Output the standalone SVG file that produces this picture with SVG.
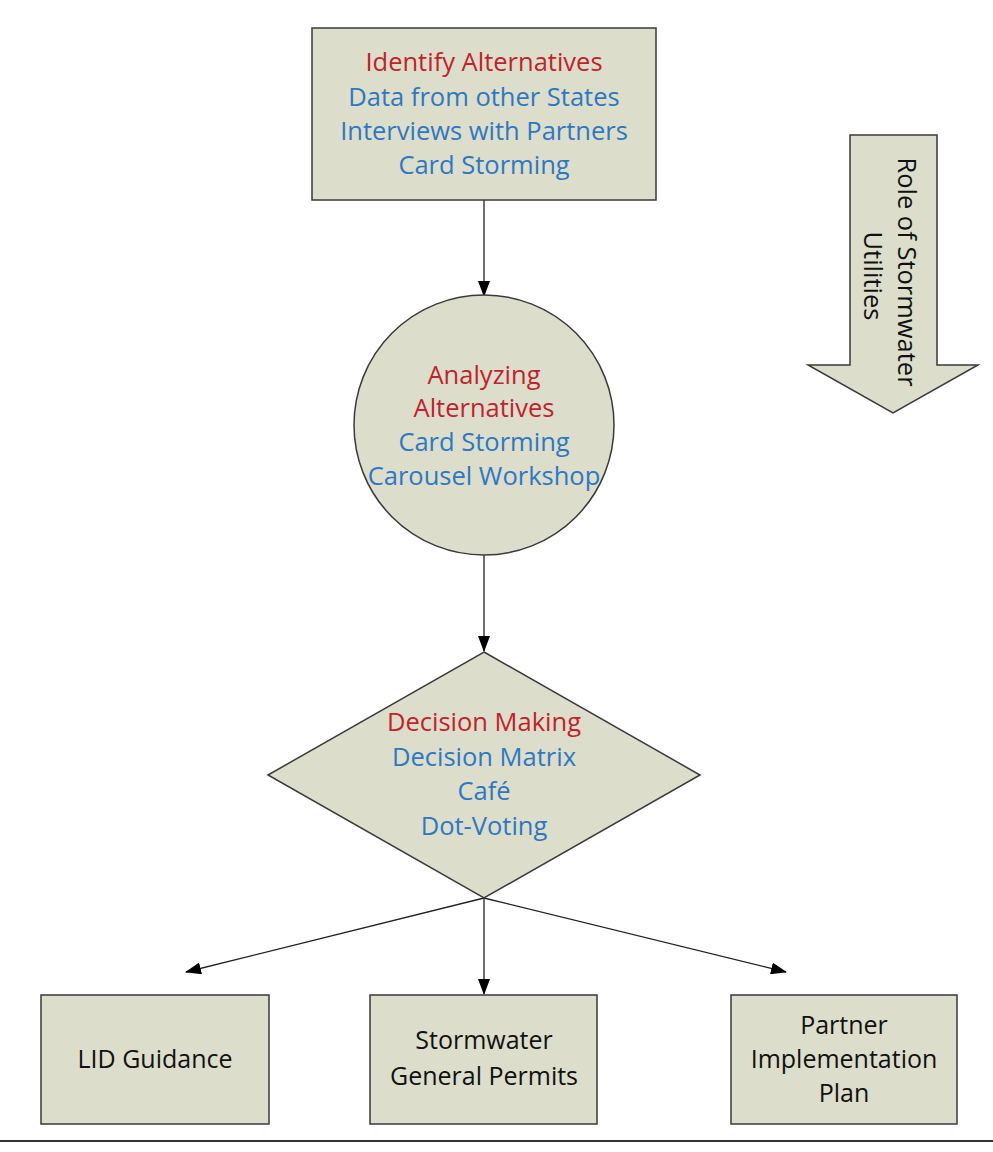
<svg xmlns="http://www.w3.org/2000/svg" width="993" height="1152" viewBox="0 0 993 1152">
<style>
.shape{fill:#dcdecb;stroke:#3a3a3a;stroke-width:1.5}
.t{font-family:"Open Sans","Liberation Sans",sans-serif;font-size:25.5px;text-anchor:middle}
.b{font-size:25px}
.red{fill:#c0232b}
.blue{fill:#2e78c2}
.blk{fill:#111}
.conn{stroke:#222;stroke-width:1.3;fill:none}
</style>
<defs>
<marker id="ah" markerWidth="16" markerHeight="12" refX="15" refY="6" orient="auto" markerUnits="userSpaceOnUse">
<path d="M0,0 L16,6 L0,12 Z" fill="#000"/>
</marker>
</defs>
<rect width="993" height="1152" fill="#fff"/>
<g id="connectors">
<line class="conn" x1="484" y1="200" x2="484" y2="296" marker-end="url(#ah)"/>
<line class="conn" x1="484" y1="555" x2="484" y2="651" marker-end="url(#ah)"/>
<line class="conn" x1="484" y1="898" x2="186" y2="972" marker-end="url(#ah)"/>
<line class="conn" x1="484" y1="898" x2="484" y2="994" marker-end="url(#ah)"/>
<line class="conn" x1="484" y1="898" x2="786" y2="972" marker-end="url(#ah)"/>
</g>
<g id="identify">
<rect class="shape" x="312" y="28" width="344" height="172"/>
<text class="t red" x="484" y="71">Identify Alternatives</text>
<text class="t blue" x="484" y="106">Data from other States</text>
<text class="t blue" x="484" y="140">Interviews with Partners</text>
<text class="t blue" x="484" y="174">Card Storming</text>
</g>
<g id="analyzing">
<circle class="shape" cx="484" cy="425" r="130"/>
<text class="t red" x="484" y="384">Analyzing</text>
<text class="t red" x="484" y="417">Alternatives</text>
<text class="t blue" x="484" y="451">Card Storming</text>
<text class="t blue" x="484" y="485">Carousel Workshop</text>
</g>
<g id="decision">
<polygon class="shape" points="484,652 700,775 484,898 268,775"/>
<text class="t red" x="484" y="731">Decision Making</text>
<text class="t blue" x="484" y="766">Decision Matrix</text>
<text class="t blue" x="484" y="800">Café</text>
<text class="t blue" x="484" y="835">Dot-Voting</text>
</g>
<g id="role">
<polygon class="shape" points="850,135 937,135 937,365 978,365 893,413 808,365 850,365"/>
<text class="t blk" transform="translate(898,272) rotate(90)">Role of Stormwater</text>
<text class="t blk" transform="translate(864,276) rotate(90)">Utilities</text>
</g>
<g id="lid">
<rect class="shape" x="41" y="995" width="228" height="129"/>
<text class="t b blk" x="155" y="1068">LID Guidance</text>
</g>
<g id="permits">
<rect class="shape" x="370" y="995" width="227" height="129"/>
<text class="t b blk" x="484" y="1049">Stormwater</text>
<text class="t b blk" x="484" y="1085">General Permits</text>
</g>
<g id="partner">
<rect class="shape" x="731" y="995" width="226" height="129"/>
<text class="t b blk" x="844" y="1034">Partner</text>
<text class="t b blk" x="844" y="1068">Implementation</text>
<text class="t b blk" x="844" y="1102">Plan</text>
</g>
<line x1="0" y1="1141" x2="993" y2="1141" stroke="#333" stroke-width="2"/>
</svg>
